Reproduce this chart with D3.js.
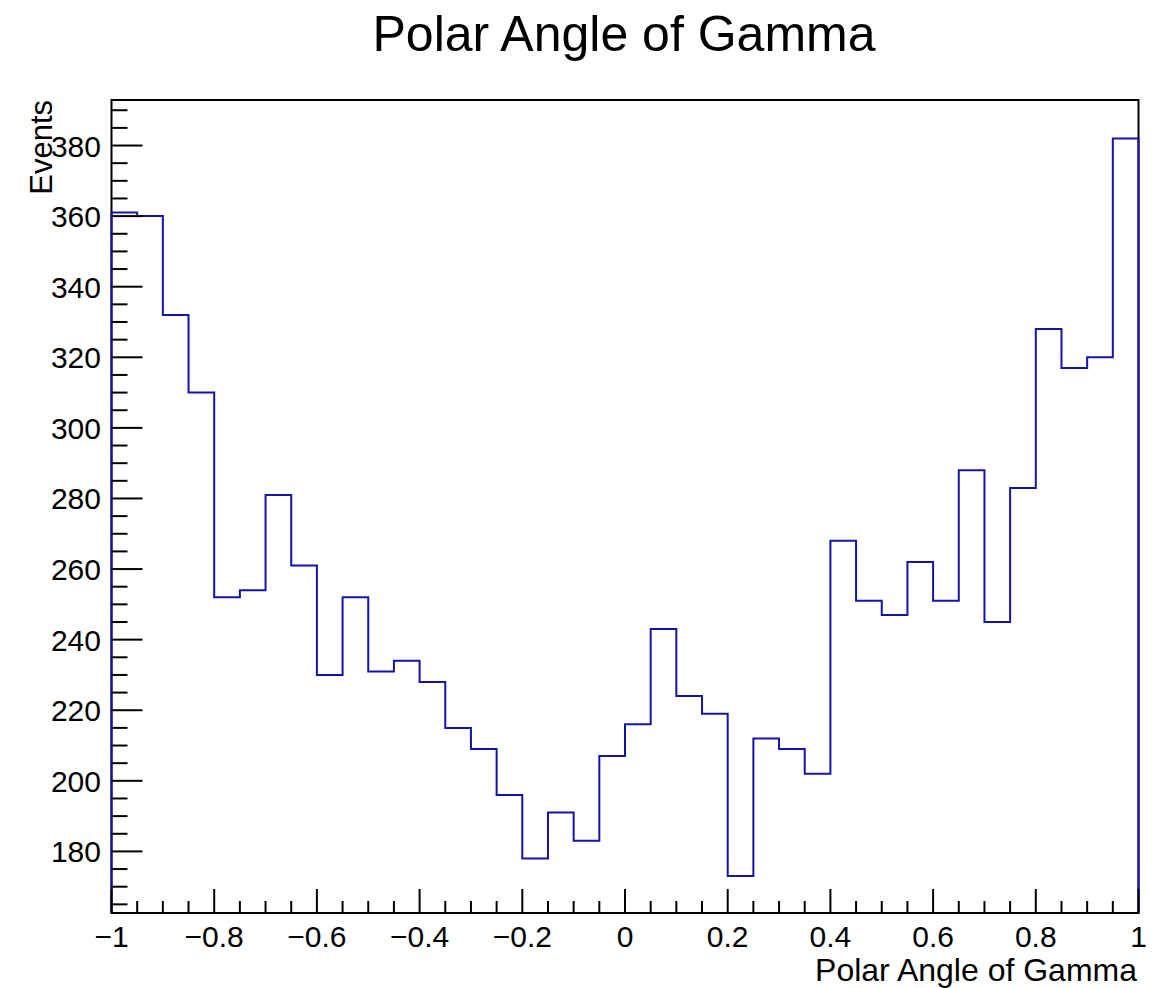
<!DOCTYPE html>
<html><head><meta charset="utf-8">
<script src="https://cdn.jsdelivr.net/npm/d3@7"></script>
<style>body{margin:0;background:#fff}text{font-family:"Liberation Sans",Arial,sans-serif;fill:#000}</style>
</head><body><svg id="c" width="1174" height="988"></svg>
<script>
const binEdgesRange = [-1, 1];
const binCount = 40;
const counts = [361,360,332,310,252,254,281,261,230,252,231,234,228,215,209,196,178,191,183,207,
                216,243,224,219,173,212,209,202,268,251,247,262,251,288,245,283,328,317,320,382];
const xTicks = [-1,-0.8,-0.6,-0.4,-0.2,0,0.2,0.4,0.6,0.8,1];
const yTicks = [180,200,220,240,260,280,300,320,340,360,380];
const yDomain = [162.55, 392.9];
const title = "Polar Angle of Gamma";
const xTitle = "Polar Angle of Gamma";
const yTitle = "Events";

const L=111.5, R=1138.5, T=100, B=913;
const svg = d3.select("#c");
const x = d3.scaleLinear().domain(binEdgesRange).range([L,R]);
const y = d3.scaleLinear().domain(yDomain).range([B,T]);
const w = (binEdgesRange[1]-binEdgesRange[0])/binCount;

const pts = [[x(binEdgesRange[0]), y(yDomain[0])]];
counts.forEach((c,i)=>{
  const x0 = binEdgesRange[0]+i*w, x1 = x0+w;
  pts.push([x(x0), y(c)], [x(x1), y(c)]);
});
pts.push([x(binEdgesRange[1]), y(yDomain[0])]);

svg.append("rect").attr("x",L).attr("y",T).attr("width",R-L).attr("height",B-T)
  .attr("fill","none").attr("stroke","#000").attr("stroke-width",2);

svg.append("path").attr("d", d3.line()(pts)).attr("fill","none")
  .attr("stroke","#1414a8").attr("stroke-width",2);

const xMinor = d3.range(0,41).map(i=>-1+i*0.05);
const gx = svg.append("g");
xMinor.forEach(v=>{
  const major = Math.abs(Math.round(v*5)-v*5)<1e-6;
  gx.append("line").attr("x1",x(v)).attr("x2",x(v)).attr("y1",B).attr("y2",B-(major?24:12))
    .attr("stroke","#000").attr("stroke-width",2);
});
xTicks.forEach(v=>{
  const s = (v<0?"\u2212":"") + d3.format("")(Math.abs(v));
  gx.append("text").attr("x",x(v)).attr("y",947).attr("text-anchor","middle")
    .attr("font-size",30).text(s);
});

const gy = svg.append("g");
d3.range(165, 395, 5).forEach(v=>{
  const major = v%20===0;
  gy.append("line").attr("x1",L).attr("x2",L+(major?31:16)).attr("y1",y(v)).attr("y2",y(v))
    .attr("stroke","#000").attr("stroke-width",2);
});
yTicks.forEach(v=>{
  gy.append("text").attr("x",101).attr("y",y(v)+11).attr("text-anchor","end")
    .attr("font-size",30).text(v);
});

svg.append("text").attr("x",624).attr("y",51).attr("text-anchor","middle")
  .attr("font-size",50).text(title);
svg.append("text").attr("x",1137).attr("y",981).attr("text-anchor","end")
  .attr("font-size",32).text(xTitle);
svg.append("text").attr("transform","translate(52,100) rotate(-90)").attr("text-anchor","end")
  .attr("font-size",31).text(yTitle);
</script></body></html>
